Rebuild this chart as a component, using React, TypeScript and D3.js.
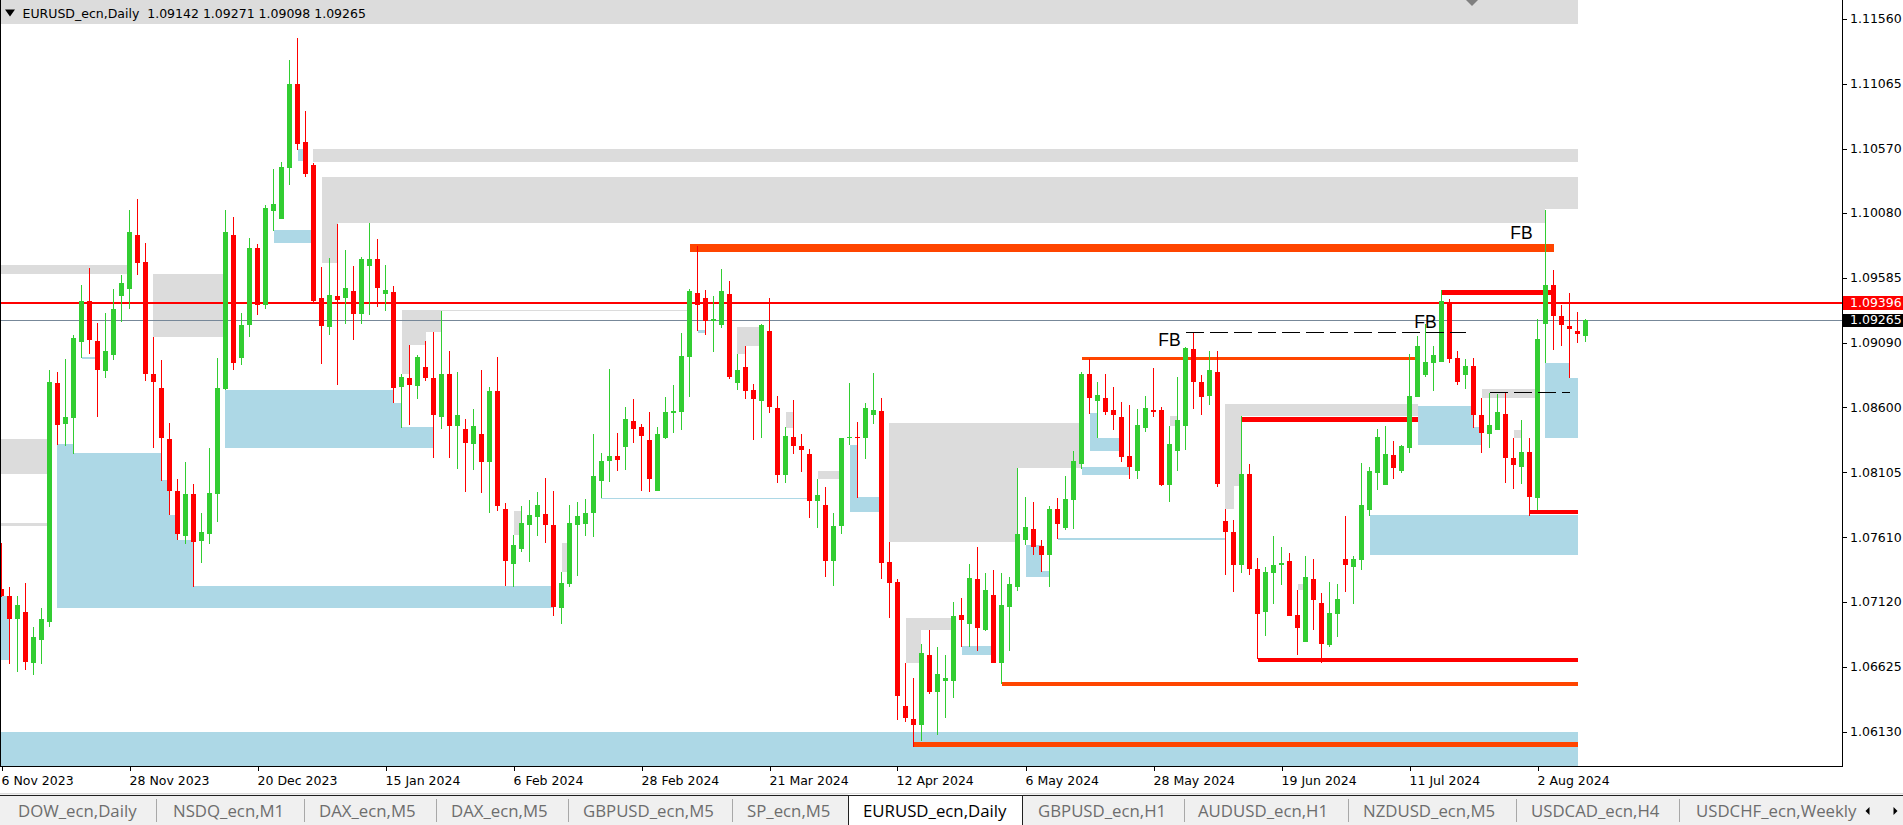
import React from "react";
import * as d3 from "d3";

// ---------- DATA ----------
const opens = [1.07215,1.07164,1.06984,1.07042,1.06654,1.06824,1.06965,1.08786,1.08475,1.0852,1.091,1.09408,1.09103,1.08879,1.08997,1.09449,1.09498,1.09911,1.09706,1.08853,1.08747,1.08359,1.07962,1.07616,1.07939,1.07584,1.07638,1.07936,1.08741,1.09911,1.08978,1.09228,1.09812,1.09376,1.10091,1.10036,1.10424,1.11062,1.1062,1.10446,1.0943,1.09209,1.09449,1.0943,1.09486,1.09312,1.09678,1.09729,1.09463,1.09478,1.08751,1.08821,1.08758,1.08906,1.08821,1.08529,1.08854,1.08459,1.08433,1.08323,1.08396,1.08179,1.08725,1.07824,1.07403,1.07518,1.07706,1.07761,1.07787,1.07702,1.07067,1.07256,1.07706,1.07713,1.07791,1.08035,1.0819,1.08227,1.083,1.08496,1.08448,1.0835,1.07964,1.08368,1.08555,1.08567,1.08986,1.0947,1.09433,1.09259,1.09225,1.09464,1.08787,1.08907,1.08732,1.08647,1.09182,1.08595,1.08081,1.08374,1.08304,1.08243,1.07882,1.07854,1.07426,1.07692,1.08362,1.08374,1.08362,1.08537,1.0857,1.07423,1.0727,1.06321,1.06226,1.06183,1.06713,1.06428,1.06517,1.06517,1.07019,1.06945,1.07291,1.06903,1.07172,1.06649,1.07077,1.07233,1.07591,1.07674,1.07542,1.07478,1.07824,1.07683,1.07897,1.08169,1.08852,1.08644,1.08671,1.08579,1.08524,1.08227,1.08117,1.08442,1.08582,1.08579,1.0801,1.0827,1.08454,1.09044,1.08794,1.08686,1.08867,1.07735,1.07649,1.07401,1.08093,1.07368,1.07037,1.0734,1.07398,1.07429,1.07019,1.06808,1.07291,1.07111,1.06792,1.07025,1.07444,1.07383,1.07438,1.07814,1.08096,1.0801,1.08234,1.08114,1.08289,1.0868,1.08846,1.08937,1.08947,1.09396,1.08974,1.08846,1.08913,1.0854,1.08399,1.08426,1.08549,1.08212,1.08148,1.08258,1.07912,1.09237,1.09531,1.09298,1.09222,1.09182,1.09142];
const highs = [1.07564,1.07228,1.07164,1.0726,1.06926,1.07067,1.08882,1.08869,1.08969,1.09151,1.0953,1.09661,1.09241,1.09318,1.09504,1.09607,1.10103,1.10187,1.0985,1.09138,1.08959,1.08481,1.08055,1.08183,1.08016,1.07798,1.08289,1.08975,1.10103,1.10052,1.09318,1.09889,1.09844,1.10139,1.10414,1.10466,1.11245,1.11411,1.10857,1.10459,1.09666,1.0974,1.09995,1.09796,1.09674,1.09744,1.10002,1.09881,1.09685,1.09522,1.08854,1.09072,1.08994,1.09105,1.09172,1.09334,1.09028,1.08869,1.08511,1.08588,1.08884,1.08755,1.08983,1.07872,1.07628,1.07846,1.07894,1.07953,1.08064,1.07964,1.07348,1.07857,1.0788,1.07902,1.08396,1.08252,1.08891,1.08404,1.08603,1.08662,1.08472,1.08564,1.08448,1.08677,1.08769,1.09167,1.095,1.09825,1.09494,1.09448,1.09653,1.09562,1.09005,1.09066,1.08778,1.09234,1.09433,1.08686,1.08448,1.08656,1.08396,1.08283,1.08056,1.07995,1.07796,1.08368,1.08781,1.08488,1.08631,1.08861,1.08671,1.07573,1.07291,1.06652,1.06538,1.06795,1.06903,1.06774,1.0671,1.07117,1.0715,1.07407,1.07536,1.07337,1.07362,1.07334,1.07306,1.08139,1.07915,1.07879,1.07585,1.07848,1.07909,1.08078,1.0827,1.0887,1.08968,1.08794,1.08852,1.08754,1.08641,1.08619,1.08586,1.08686,1.08898,1.08601,1.08457,1.0883,1.0906,1.09167,1.08846,1.09029,1.09029,1.07821,1.07744,1.08533,1.08166,1.07453,1.07383,1.07616,1.07536,1.0749,1.07208,1.07469,1.07444,1.07184,1.0727,1.07254,1.07772,1.07469,1.08176,1.08148,1.08436,1.08457,1.08341,1.0831,1.09005,1.09142,1.09231,1.09066,1.09494,1.09421,1.09029,1.08968,1.08974,1.08668,1.08705,1.08699,1.08711,1.08365,1.08503,1.08362,1.09274,1.101,1.09647,1.09378,1.09467,1.09323,1.09271];
const lows = [1.07157,1.06644,1.06586,1.06596,1.06561,1.06644,1.06923,1.08311,1.08305,1.08247,1.08975,1.09007,1.08529,1.08824,1.08959,1.09251,1.0935,1.09607,1.08799,1.08286,1.08039,1.07782,1.07587,1.07555,1.07234,1.07417,1.07555,1.07728,1.08728,1.08885,1.08924,1.09132,1.09305,1.0935,1.09946,1.1003,1.10296,1.10562,1.1035,1.09385,1.08928,1.0915,1.08773,1.09231,1.09109,1.09234,1.09305,1.09364,1.09334,1.08629,1.08444,1.08463,1.08659,1.08802,1.08215,1.08437,1.08215,1.08127,1.07957,1.08119,1.0795,1.07798,1.07809,1.07237,1.0723,1.07499,1.07418,1.07621,1.07562,1.07008,1.06945,1.0723,1.07318,1.07621,1.07614,1.07905,1.08027,1.08116,1.08123,1.08326,1.07964,1.07958,1.0796,1.0836,1.08402,1.08423,1.0868,1.09182,1.09152,1.09023,1.09207,1.08812,1.08732,1.08662,1.08347,1.08365,1.08555,1.08019,1.08022,1.08246,1.08108,1.07753,1.07677,1.0731,1.07242,1.07637,1.0831,1.07912,1.08209,1.08475,1.07288,1.06991,1.0622,1.06202,1.06012,1.06055,1.06416,1.06101,1.06235,1.06382,1.06774,1.06774,1.06746,1.06893,1.06649,1.06489,1.0674,1.07202,1.07554,1.07475,1.07346,1.07233,1.07597,1.07664,1.0767,1.0813,1.08552,1.08362,1.0854,1.08429,1.08179,1.0805,1.08056,1.08408,1.08524,1.08001,1.07879,1.08117,1.08273,1.08586,1.0854,1.08616,1.07989,1.07325,1.07193,1.0734,1.07325,1.06679,1.06857,1.07098,1.07248,1.0701,1.0671,1.06808,1.06903,1.06655,1.06771,1.06851,1.07193,1.07098,1.07362,1.07772,1.07973,1.0801,1.08056,1.08096,1.08255,1.0868,1.08827,1.0872,1.08944,1.08937,1.08769,1.08735,1.08439,1.08255,1.08286,1.08423,1.08026,1.0798,1.08016,1.07775,1.07814,1.08934,1.09035,1.09063,1.08821,1.0909,1.09098];
const closes = [1.07164,1.0699,1.07093,1.06663,1.06849,1.06987,1.08792,1.08465,1.08529,1.09129,1.09408,1.09113,1.08885,1.09029,1.09347,1.09546,1.09934,1.09699,1.08856,1.08789,1.08363,1.07965,1.07638,1.07939,1.07577,1.07651,1.07946,1.08747,1.09934,1.0894,1.09225,1.09812,1.09376,1.10116,1.10148,1.1043,1.11062,1.10604,1.10379,1.09411,1.09216,1.09456,1.09415,1.09508,1.09312,1.09729,1.09729,1.09511,1.09493,1.08747,1.08828,1.08766,1.08983,1.08825,1.0854,1.08854,1.08459,1.0854,1.0833,1.08455,1.08179,1.08725,1.0785,1.07425,1.07551,1.07717,1.0778,1.07854,1.07706,1.07082,1.07259,1.07717,1.07772,1.07795,1.08075,1.0819,1.08227,1.08201,1.08511,1.08437,1.08381,1.0805,1.08396,1.08564,1.0857,1.08989,1.09485,1.09381,1.09259,1.09271,1.09485,1.0883,1.08882,1.08726,1.08659,1.09225,1.08598,1.08081,1.08381,1.08307,1.08273,1.07882,1.07931,1.07426,1.07695,1.08365,1.08374,1.08368,1.08595,1.08579,1.07417,1.07258,1.06404,1.06235,1.06183,1.06728,1.06428,1.06569,1.06538,1.0701,1.06982,1.073,1.06921,1.07208,1.06652,1.07095,1.07254,1.07634,1.07689,1.07539,1.07475,1.07824,1.07707,1.079,1.08191,1.08855,1.08671,1.08693,1.08567,1.08537,1.08224,1.08148,1.08466,1.08595,1.08564,1.0801,1.08319,1.08503,1.09054,1.08794,1.0868,1.08882,1.08016,1.07646,1.07398,1.08093,1.07365,1.07028,1.07346,1.07398,1.07414,1.07013,1.06915,1.07306,1.07135,1.06798,1.07034,1.07138,1.07401,1.07444,1.07854,1.08114,1.08374,1.08243,1.08136,1.08301,1.08686,1.09066,1.08944,1.08999,1.09409,1.08968,1.08794,1.08913,1.08537,1.08402,1.08466,1.08564,1.08212,1.08157,1.08258,1.07915,1.09121,1.09531,1.09298,1.09225,1.09194,1.09161,1.09265];

const dateLabels = ["6 Nov 2023","28 Nov 2023","20 Dec 2023","15 Jan 2024","6 Feb 2024","28 Feb 2024","21 Mar 2024","12 Apr 2024","6 May 2024","28 May 2024","19 Jun 2024","11 Jul 2024","2 Aug 2024"];
const dateLabelBars = [0,16,32,48,64,80,96,112,128,144,160,176,192];
const priceTicks = [1.1156,1.11065,1.1057,1.1008,1.09585,1.0909,1.086,1.08105,1.0761,1.0712,1.06625,1.0613];

// zones: [startBar, endBar, topPrice, bottomPrice]
const grayZones: number[][] = [
  [-3,197,1.118,1.11519],[39,197,1.10567,1.10464],[40,193,1.10357,1.10005],[193,197,1.10357,1.10106],
  [40,42,1.10005,1.0970],[-3,16,1.09683,1.09616],[19,28,1.09616,1.09138],[-3,6,1.08359,1.08093],
  [-3,6,1.07717,1.07699],[50,55,1.09342,1.09175],[50,53,1.09175,1.09076],[50,51,1.09076,1.08854],
  [55,86,1.09342,1.0933],[64,65,1.07809,1.07628],[70,71,1.07569,1.07348],[92,95,1.0921,1.09066],
  [92,93,1.09066,1.09005],[98,99,1.08564,1.08439],[102,105,1.08111,1.08056],[111,127,1.08481,1.07576],
  [127,135,1.08481,1.08139],[113,115,1.06994,1.06652],[115,119,1.06994,1.06903],[146,147,1.08533,1.0846],
  [153,177,1.08625,1.08533],[153,154,1.08533,1.07821],[154,155,1.08533,1.08001],[162,163,1.07254,1.07208],
  [185,192,1.08735,1.08674],[189,190,1.08426,1.08368]
];
const blueZones: number[][] = [
  [-3,197,1.06129,1.058],[-3,1,1.07164,1.06677],[7,9,1.08318,1.07067],[9,20,1.08254,1.07067],
  [20,21,1.08045,1.07067],[21,22,1.07782,1.07067],[22,24,1.07587,1.07067],[24,69,1.07237,1.07067],
  [10,12,1.08985,1.08965],[28,49,1.08732,1.08289],[49,50,1.08633,1.08289],[50,54,1.08448,1.08289],
  [34,39,1.0995,1.09847],[37,38,1.10568,1.10472],[75,101,1.0791,1.079],[87,88,1.09188,1.09167],
  [106,107,1.08316,1.07799],[107,110,1.07915,1.07799],[120,124,1.06783,1.0671],[128,130,1.07554,1.07309],
  [130,131,1.07352,1.07309],[132,153,1.07602,1.07592],[135,141,1.08142,1.08081],[136,137,1.08555,1.0827],
  [137,140,1.08365,1.0827],[171,197,1.07781,1.07478],[177,184,1.0861,1.08316],[184,185,1.08448,1.08316],
  [193,196,1.08938,1.08362],[196,197,1.08824,1.08362]
];
// levels: [startBar, endBar, price]
const orangeLevels: number[][] = [[86,194,1.09814],[135,177,1.08973],[125,197,1.06489],[114,197,1.0603]];
const redLevels: number[][] = [[157,197,1.06678],[155,177,1.08506],[180,194,1.09476],[191,197,1.07799]];
const dashedLevels: number[][] = [[148,183,1.0917],[186,196,1.08714]];
const fbLabels: number[][] = [[146,1.09066],[178,1.09203],[190,1.0988]];
const alertPrice = 1.09396;
const bidPrice = 1.09265;
const headerText = "EURUSD_ecn,Daily  1.09142 1.09271 1.09098 1.09265";
const tabLabels = ["DOW_ecn,Daily","NSDQ_ecn,M1","DAX_ecn,M5","DAX_ecn,M5","GBPUSD_ecn,M5","SP_ecn,M5","EURUSD_ecn,Daily","GBPUSD_ecn,H1","AUDUSD_ecn,H1","NZDUSD_ecn,M5","USDCAD_ecn,H4","USDCHF_ecn,Weekly"];
const activeTab = 6;

// ---------- LAYOUT / STYLE ----------
const W = 1903, H = 825;
const chartR = 1842, chartB = 766;
const tabTextX = [18,173,319,451,583,747,863,1038,1198,1363,1531,1696];
const tabSepX = [156,304,436,568,732,1184,1348,1516,1679];
const orangeWidths = [7.5,3,4,4.4];
const redWidths = [4,5,5,4];
const GREEN = "#32cd32", RED = "#ff0000", ORANGE = "#ff4500", GRAY = "#dcdcdc", BLUE = "#add8e6";
const AX_FONT = "'DejaVu Sans', Verdana, sans-serif";
const TAB_FONT = "'Open Sans', 'Noto Sans', sans-serif";

export default function App() {
  const x = d3.scaleLinear().domain([0, 198]).range([1.5, 1585.5]);
  const y = d3.scaleLinear().domain([1.0613, 1.1156]).range([731.5, 18.6]);
  const fmt = d3.format(".5f");

  const zoneRect = (z: number[], fill: string, k: string) => {
    const x1 = Math.round(x(z[0])), x2 = Math.round(x(z[1]));
    const y1 = Math.round(y(z[2])), y2 = Math.round(y(z[3]));
    return <rect key={k} x={x1} y={y1} width={Math.max(1, x2 - x1)} height={Math.max(1, y2 - y1)} fill={fill} />;
  };

  return (
    <svg width={W} height={H} style={{ position: "fixed", left: 0, top: 0, display: "block" }}
      xmlns="http://www.w3.org/2000/svg">
      <defs>
        <clipPath id="plot"><rect x={1} y={0} width={chartR - 1} height={chartB} /></clipPath>
      </defs>
      <rect x={0} y={0} width={W} height={H} fill="#ffffff" />
      <g clipPath="url(#plot)">
        <g shapeRendering="crispEdges">
          {grayZones.map((z, i) => zoneRect(z, GRAY, "g" + i))}
          {blueZones.map((z, i) => zoneRect(z, BLUE, "b" + i))}
          {orangeLevels.map((l, i) => (
            <line key={"o" + i} x1={x(l[0])} x2={x(l[1])} y1={y(l[2])} y2={y(l[2])} stroke={ORANGE} strokeWidth={orangeWidths[i]} />
          ))}
          {redLevels.map((l, i) => (
            <line key={"r" + i} x1={x(l[0])} x2={x(l[1])} y1={y(l[2])} y2={y(l[2])} stroke={RED} strokeWidth={redWidths[i]} />
          ))}
          <line x1={0} x2={chartR} y1={Math.round(y(alertPrice))} y2={Math.round(y(alertPrice))} stroke={RED} strokeWidth={2} />
          <line x1={0} x2={chartR} y1={Math.round(y(bidPrice)) + 0.5} y2={Math.round(y(bidPrice)) + 0.5} stroke="#778899" strokeWidth={1} />
        </g>
        <g shapeRendering="crispEdges">
          {opens.map((o, i) => {
            const c = closes[i], hi = highs[i], lo = lows[i];
            const col = c >= o ? GREEN : RED;
            const cx = x(i);
            const yt = Math.round(y(Math.max(o, c)));
            const yb = Math.round(y(Math.min(o, c)));
            return (
              <g key={"c" + i}>
                <line x1={cx} x2={cx} y1={Math.round(y(hi))} y2={Math.round(y(lo))} stroke={col} strokeWidth={1} />
                <rect x={cx - 2.5} y={yt} width={5} height={Math.max(1, yb - yt)} fill={col} />
              </g>
            );
          })}
          {dashedLevels.map((l, i) => (
            <line key={"d" + i} x1={x(l[0])} x2={x(l[1])} y1={Math.round(y(l[2])) + 0.5} y2={Math.round(y(l[2])) + 0.5}
              stroke="#000" strokeWidth={1} strokeDasharray="18 6" />
          ))}
        </g>
        {fbLabels.map((f, i) => (
          <text key={"fb" + i} x={x(f[0])} y={y(f[1])} textAnchor="middle" fontFamily="'Liberation Sans', Arial, sans-serif"
            fontSize={17.5} fill="#000">FB</text>
        ))}
        <polygon points="1466,0 1478,0 1472,6" fill="#808080" />
      </g>
      {/* header */}
      <polygon points="5,9.5 15,9.5 10,16.5" fill="#000" />
      <text x={22.5} y={18} fontFamily={AX_FONT} fontSize={12.5} fill="#000" style={{ whiteSpace: "pre" }}>{headerText}</text>
      {/* borders */}
      <g shapeRendering="crispEdges">
        <line x1={0.5} x2={0.5} y1={0} y2={chartB} stroke="#000" />
        <line x1={chartR + 0.5} x2={chartR + 0.5} y1={0} y2={chartB + 0.5} stroke="#000" />
        <line x1={0} x2={chartR + 1} y1={chartB + 0.5} y2={chartB + 0.5} stroke="#000" />
      </g>
      {/* price axis */}
      {priceTicks.map((p, i) => (
        <g key={"pt" + i}>
          <line x1={chartR + 1} x2={chartR + 5} y1={Math.round(y(p)) + 0.5} y2={Math.round(y(p)) + 0.5} stroke="#000" shapeRendering="crispEdges" />
          <text x={1850} y={y(p)} dy="0.36em" fontFamily={AX_FONT} fontSize={12.5} fill="#000">{fmt(p)}</text>
        </g>
      ))}
      <rect x={chartR + 1} y={Math.round(y(alertPrice)) - 7} width={W - chartR} height={14} fill={RED} />
      <text x={1850} y={y(alertPrice)} dy="0.36em" fontFamily={AX_FONT} fontSize={12.5} fill="#fff">{fmt(alertPrice)}</text>
      <rect x={chartR + 1} y={Math.round(y(bidPrice)) - 6} width={W - chartR} height={13} fill="#000" />
      <text x={1850} y={y(bidPrice)} dy="0.36em" fontFamily={AX_FONT} fontSize={12.5} fill="#fff">{fmt(bidPrice)}</text>
      {/* time axis */}
      {dateLabels.map((d, i) => {
        const tx = Math.round(x(dateLabelBars[i])) + 0.5;
        return (
          <g key={"dl" + i}>
            <line x1={tx} x2={tx} y1={chartB} y2={chartB + 5} stroke="#000" shapeRendering="crispEdges" />
            <text x={tx - 1} y={785} fontFamily={AX_FONT} fontSize={12.5} fill="#000">{d}</text>
          </g>
        );
      })}
      {/* tab bar */}
      <g shapeRendering="crispEdges">
        <rect x={0} y={794} width={W} height={H - 794} fill="#f0f0f0" />
        <line x1={0} x2={W} y1={793.5} y2={793.5} stroke="#dcdcdc" />
        <line x1={0} x2={W} y1={795.5} y2={795.5} stroke="#202020" />
        <rect x={848} y={794} width={175} height={H - 794} fill="#ffffff" />
        <path d="M848.5,825 V795.5 H1022.5 V825" fill="none" stroke="#202020" />
        {tabSepX.map((sx, i) => (
          <line key={"ts" + i} x1={sx + 0.5} x2={sx + 0.5} y1={799} y2={822} stroke="#a8a8a8" />
        ))}
      </g>
      {tabLabels.map((t, i) => (
        <text key={"tl" + i} x={tabTextX[i]} y={817} fontFamily={TAB_FONT} fontSize={16.8}
          fill={i === activeTab ? "#000" : "#6d6d6d"}>{t}</text>
      ))}
      <polygon points="1869.5,807 1869.5,815 1865.5,811" fill="#000" />
      <polygon points="1893.5,807 1893.5,815 1897.5,811" fill="#000" />
    </svg>
  );
}
